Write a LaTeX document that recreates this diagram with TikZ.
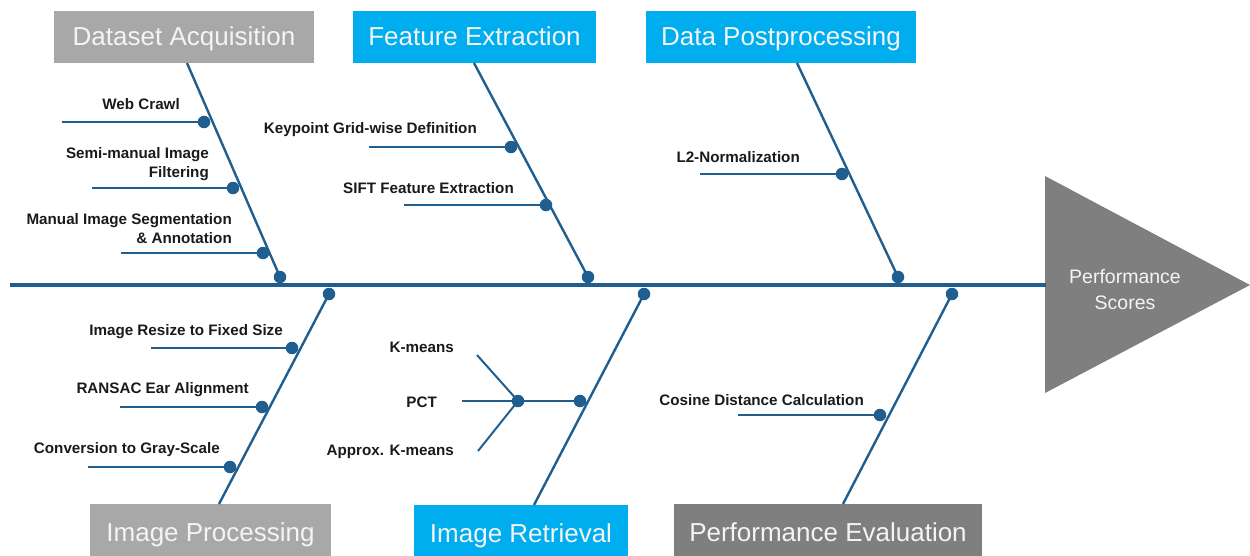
\documentclass[tikz,border=0pt]{standalone}
\usepackage{fontspec}
\setmainfont{Liberation Sans}
\definecolor{bonec}{HTML}{1F5E8E}
\definecolor{graybox}{HTML}{A8A8A8}
\definecolor{bluebox}{HTML}{00AEEF}
\definecolor{darkbox}{HTML}{7F7F7F}
\definecolor{boxtext}{HTML}{F4F4F4}
\definecolor{labc}{HTML}{1A1A1A}
\begin{document}
\begin{tikzpicture}[x=1pt,y=-1pt,
  box/.style={inner sep=0, text=boxtext, text height=19, text depth=3, font=\fontsize{26}{30}\selectfont},
  dotn/.style={circle, fill=bonec, inner sep=0, minimum size=12.5},
  spine/.style={draw=bonec, line width=3.2},
  bone/.style={draw=bonec, line width=2.4},
  twig/.style={draw=bonec, line width=2},
  lab/.style={font=\bfseries\fontsize{15.2}{19}\selectfont, text=labc, inner sep=0, align=right},
]
\useasboundingbox (0,0) rectangle (1250,555);

% category boxes
\node[box, fill=graybox, minimum width=260, minimum height=52] (bDA) at (184,37) {Dataset Acquisition};
\node[box, fill=bluebox, minimum width=243, minimum height=52] (bFE) at (474.5,37) {Feature Extraction};
\node[box, fill=bluebox, minimum width=270, minimum height=52] (bDP) at (781,37) {Data Postprocessing};
\node[box, fill=graybox, minimum width=241, minimum height=58] (bIP) at (210.5,533) {Image Processing};
\node[box, fill=bluebox, minimum width=214, minimum height=58] (bIR) at (521,534) {Image Retrieval};
\node[box, fill=darkbox, minimum width=308, minimum height=58] (bPE) at (828,533) {Performance Evaluation};

% head
\fill[darkbox] (1045,176) -- (1250,285) -- (1045,393) -- cycle;
\node[inner sep=0, text=boxtext, align=center, font=\fontsize{19.5}{26}\selectfont] (ps) at (1125,290) {Performance\\Scores};

% spine
\coordinate (spL) at (10,285);
\coordinate (spR) at (1046,285);
\draw[spine] (spL) -- (spR);

% bone ends at boxes
\coordinate (tDA) at (187,63);
\coordinate (tFE) at (474,63);
\coordinate (tDP) at (797,63);
\coordinate (tIP) at (219,504);
\coordinate (tIR) at (534,505);
\coordinate (tPE) at (843,504);

% junction dots
\node[dotn] (jDA) at (280,277) {};
\node[dotn] (jFE) at (588,277) {};
\node[dotn] (jDP) at (898,277) {};
\node[dotn] (jIP) at (329,294) {};
\node[dotn] (jIR) at (644,294) {};
\node[dotn] (jPE) at (952,294) {};

\draw[bone] (tDA) -- (jDA.center);
\draw[bone] (tFE) -- (jFE.center);
\draw[bone] (tDP) -- (jDP.center);
\draw[bone] (tIP) -- (jIP.center);
\draw[bone] (tIR) -- (jIR.center);
\draw[bone] (tPE) -- (jPE.center);

% Dataset Acquisition
\node[dotn] (sWC) at (204,122) {};
\coordinate (eWC) at (62,122);
\draw[twig] (eWC) -- (sWC.center);
\node[lab, anchor=east] (lWC) at (180,104) {Web Crawl};

\node[dotn] (sSM) at (233,188) {};
\coordinate (eSM) at (92,188);
\draw[twig] (eSM) -- (sSM.center);
\node[lab, anchor=east] (lSM) at (209,164) {Semi-manual Image\\Filtering};

\node[dotn] (sMS) at (263,253) {};
\coordinate (eMS) at (121,253);
\draw[twig] (eMS) -- (sMS.center);
\node[lab, anchor=east] (lMS) at (232,228.5) {Manual Image Segmentation\\\& Annotation};

% Feature Extraction
\node[dotn] (sKP) at (511,147) {};
\coordinate (eKP) at (369,147);
\draw[twig] (eKP) -- (sKP.center);
\node[lab, anchor=east] (lKP) at (477,130) {Keypoint Grid-wise Definition};

\node[dotn] (sSF) at (546,205) {};
\coordinate (eSF) at (404,205);
\draw[twig] (eSF) -- (sSF.center);
\node[lab, anchor=east] (lSF) at (514,188) {SIFT Feature Extraction};

% Data Postprocessing
\node[dotn] (sL2) at (842,174) {};
\coordinate (eL2) at (700,174);
\draw[twig] (eL2) -- (sL2.center);
\node[lab, anchor=east] (lL2) at (800,157) {L2-Normalization};

% Image Processing
\node[dotn] (sRS) at (292,348) {};
\coordinate (eRS) at (151,348);
\draw[twig] (eRS) -- (sRS.center);
\node[lab, anchor=east] (lRS) at (283,332) {Image Resize to Fixed Size};

\node[dotn] (sRA) at (262,407) {};
\coordinate (eRA) at (120,407);
\draw[twig] (eRA) -- (sRA.center);
\node[lab, anchor=east] (lRA) at (249,390) {RANSAC Ear Alignment};

\node[dotn] (sGS) at (230,467) {};
\coordinate (eGS) at (88,467);
\draw[twig] (eGS) -- (sGS.center);
\node[lab, anchor=east] (lGS) at (220,450) {Conversion to Gray-Scale};

% Image Retrieval
\node[dotn] (sIR) at (580,401) {};
\node[dotn] (jCL) at (518,401) {};
\draw[twig] (jCL.center) -- (sIR.center);
\coordinate (eKM) at (477,355);
\coordinate (ePC) at (462,401);
\coordinate (eAK) at (478,451);
\draw[twig] (eKM) -- (jCL.center);
\draw[twig] (ePC) -- (jCL.center);
\draw[twig] (eAK) -- (jCL.center);
\node[lab, anchor=east] (lKM) at (454,347) {K-means};
\node[lab, anchor=east] (lPC) at (437,402) {PCT};
\node[lab, anchor=east] (lAK) at (454,452) {Approx. K-means};

% Performance Evaluation
\node[dotn] (sCD) at (880,415) {};
\coordinate (eCD) at (738,415);
\draw[twig] (eCD) -- (sCD.center);
\node[lab, anchor=east] (lCD) at (864,400) {Cosine Distance Calculation};
\end{tikzpicture}
\end{document}
